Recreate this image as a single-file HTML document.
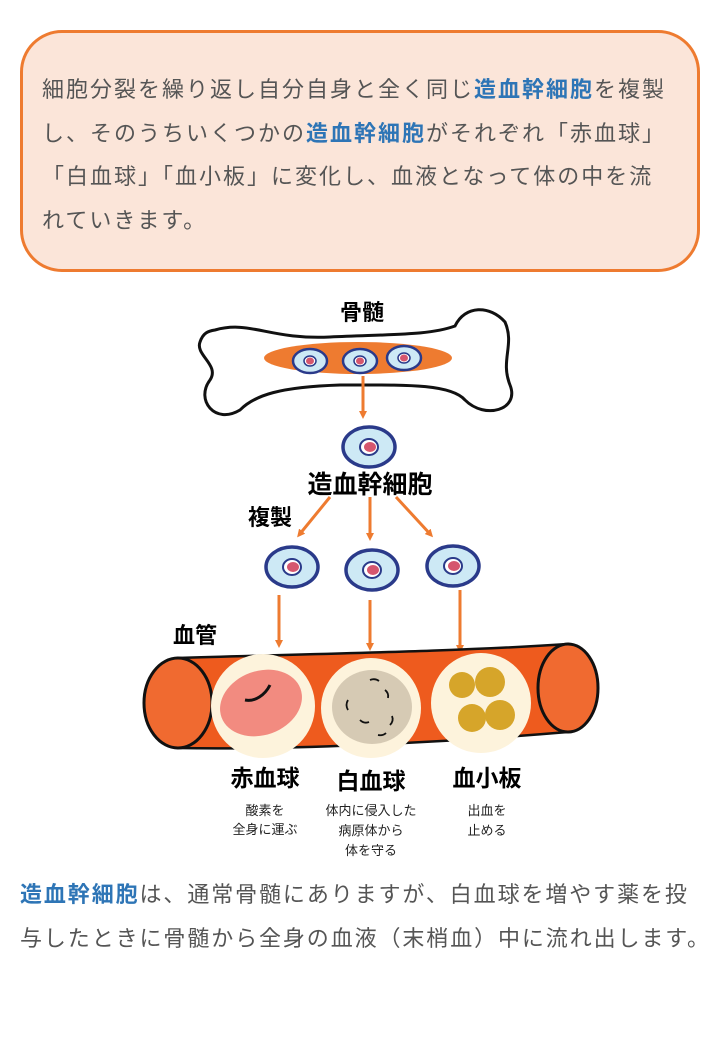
<!DOCTYPE html>
<html><head><meta charset="utf-8"><style>
body{margin:0;background:#fff;width:720px;height:1040px;position:relative;overflow:hidden;font-family:"Liberation Sans","Noto Sans CJK JP",sans-serif}
.box{position:absolute;left:20px;top:30px;width:674px;height:236px;border:3px solid #ee7b30;border-radius:42px;background:#fbe5d9}
.box p{margin:0;position:absolute;left:19px;top:35px;font-size:22px;letter-spacing:2px;line-height:43.5px;color:#555;white-space:nowrap}
b{color:#2e75b6}
.bt{position:absolute;left:20px;top:873px;font-size:22px;letter-spacing:1.9px;line-height:44px;color:#555;white-space:nowrap}
</style></head><body>
<div class="box"><p>細胞分裂を繰り返し自分自身と全く同じ<b>造血幹細胞</b>を複製<br>し、そのうちいくつかの<b>造血幹細胞</b>がそれぞれ「赤血球」<br>「白血球」「血小板」に変化し、血液となって体の中を流<br>れていきます。</p></div>
<svg width="720" height="1040" style="position:absolute;left:0;top:0" font-family="Liberation Sans, Noto Sans CJK JP, sans-serif">
<defs>
<marker id="a" markerWidth="8" markerHeight="8" refX="5" refY="4" orient="auto" markerUnits="userSpaceOnUse"><path d="M0,0 L8,4 L0,8 Z" fill="#ee7b30"/></marker>
<g id="c"><ellipse rx="26" ry="20" fill="#cde9f5" stroke="#2a3a8a" stroke-width="3.5"/><ellipse rx="9" ry="8" fill="#fff" stroke="#2a3a8a" stroke-width="2"/><ellipse cx="1" rx="6" ry="5" fill="#d5566e"/></g>
<g id="s"><ellipse rx="17" ry="12" fill="#cde9f5" stroke="#2a3a8a" stroke-width="2.5"/><ellipse rx="6" ry="5" fill="#fff" stroke="#2a3a8a" stroke-width="1.5"/><ellipse rx="4" ry="3.5" fill="#d5566e"/></g>
</defs>
<text x="362" y="320" font-size="22" font-weight="bold" text-anchor="middle">骨髄</text>
<path d="M215,330 C250,320 270,340 330,337 C400,334 430,335 455,326 C465,305 490,305 505,322 C515,345 500,360 510,385 C520,410 485,420 465,400 C450,383 400,385 340,385 C280,387 255,395 240,410 C215,425 195,400 210,380 C220,365 195,355 200,342 C203,333 208,331 215,330 Z" fill="#fff" stroke="#111" stroke-width="3"/>
<ellipse cx="358" cy="358" rx="94" ry="16" fill="#ee7b30"/>
<use href="#s" x="310" y="361"/><use href="#s" x="360" y="361"/><use href="#s" x="404" y="358"/>
<g stroke="#ee7b30" stroke-width="3" fill="none" marker-end="url(#a)">
<line x1="363" y1="376" x2="363" y2="416"/>
<line x1="330" y1="497" x2="299" y2="535"/>
<line x1="370" y1="497" x2="370" y2="538"/>
<line x1="396" y1="497" x2="431" y2="535"/>
<line x1="279" y1="595" x2="279" y2="645"/>
<line x1="370" y1="600" x2="370" y2="648"/>
<line x1="460" y1="590" x2="460" y2="650"/>
</g>
<use href="#c" x="369" y="447"/>
<text x="370" y="493" font-size="25" font-weight="bold" text-anchor="middle">造血幹細胞</text>
<text x="270" y="525" font-size="22" font-weight="bold" text-anchor="middle">複製</text>
<use href="#c" x="292" y="567"/><use href="#c" x="372" y="570"/><use href="#c" x="453" y="566"/>
<text x="195" y="643" font-size="22" font-weight="bold" text-anchor="middle">血管</text>
<path d="M178,658 C300,654 450,652 568,644 L568,732 C450,742 300,750 178,748 Z" fill="#ee5b1e" stroke="#111" stroke-width="2.5"/>
<ellipse cx="178" cy="703" rx="34" ry="45" fill="#f06a30" stroke="#111" stroke-width="3"/>
<ellipse cx="568" cy="688" rx="30" ry="44" fill="#f06a30" stroke="#111" stroke-width="3"/>
<circle cx="263" cy="706" r="52" fill="#fdf3dc"/>
<circle cx="371" cy="708" r="50" fill="#fdf3dc"/>
<circle cx="481" cy="703" r="50" fill="#fdf3dc"/>
<ellipse cx="261" cy="703" rx="42" ry="32" transform="rotate(-20 261 703)" fill="#f28b80"/>
<path d="M245,700 C255,702 265,695 270,685" stroke="#111" stroke-width="3" fill="none"/>
<ellipse cx="372" cy="707" rx="40" ry="37" fill="#d6cab4"/>
<g stroke="#111" stroke-width="1.8" fill="none"><path d="M348,700 q-3,5 0,10"/><path d="M385,690 q4,3 3,8"/><path d="M360,720 q4,4 9,2"/><path d="M392,716 q2,5 -2,9"/><path d="M370,680 q5,-2 9,1"/><path d="M378,735 q5,1 8,-2"/></g>
<g fill="#d6a52a"><circle cx="462" cy="685" r="13"/><circle cx="490" cy="682" r="15"/><circle cx="472" cy="718" r="14"/><circle cx="500" cy="715" r="15"/></g>
<g font-size="23" font-weight="bold" text-anchor="middle"><text x="265" y="786">赤血球</text><text x="371" y="789">白血球</text><text x="487" y="786">血小板</text></g>
<g font-size="13" text-anchor="middle" fill="#222"><text x="265" y="815">酸素を</text><text x="265" y="834">全身に運ぶ</text>
<text x="371" y="815">体内に侵入した</text><text x="371" y="835">病原体から</text><text x="371" y="855">体を守る</text>
<text x="487" y="815">出血を</text><text x="487" y="835">止める</text></g>
</svg>
<div class="bt"><b>造血幹細胞</b>は、通常骨髄にありますが、白血球を増やす薬を投<br>与したときに骨髄から全身の血液（末梢血）中に流れ出します。</div>
</body></html>
